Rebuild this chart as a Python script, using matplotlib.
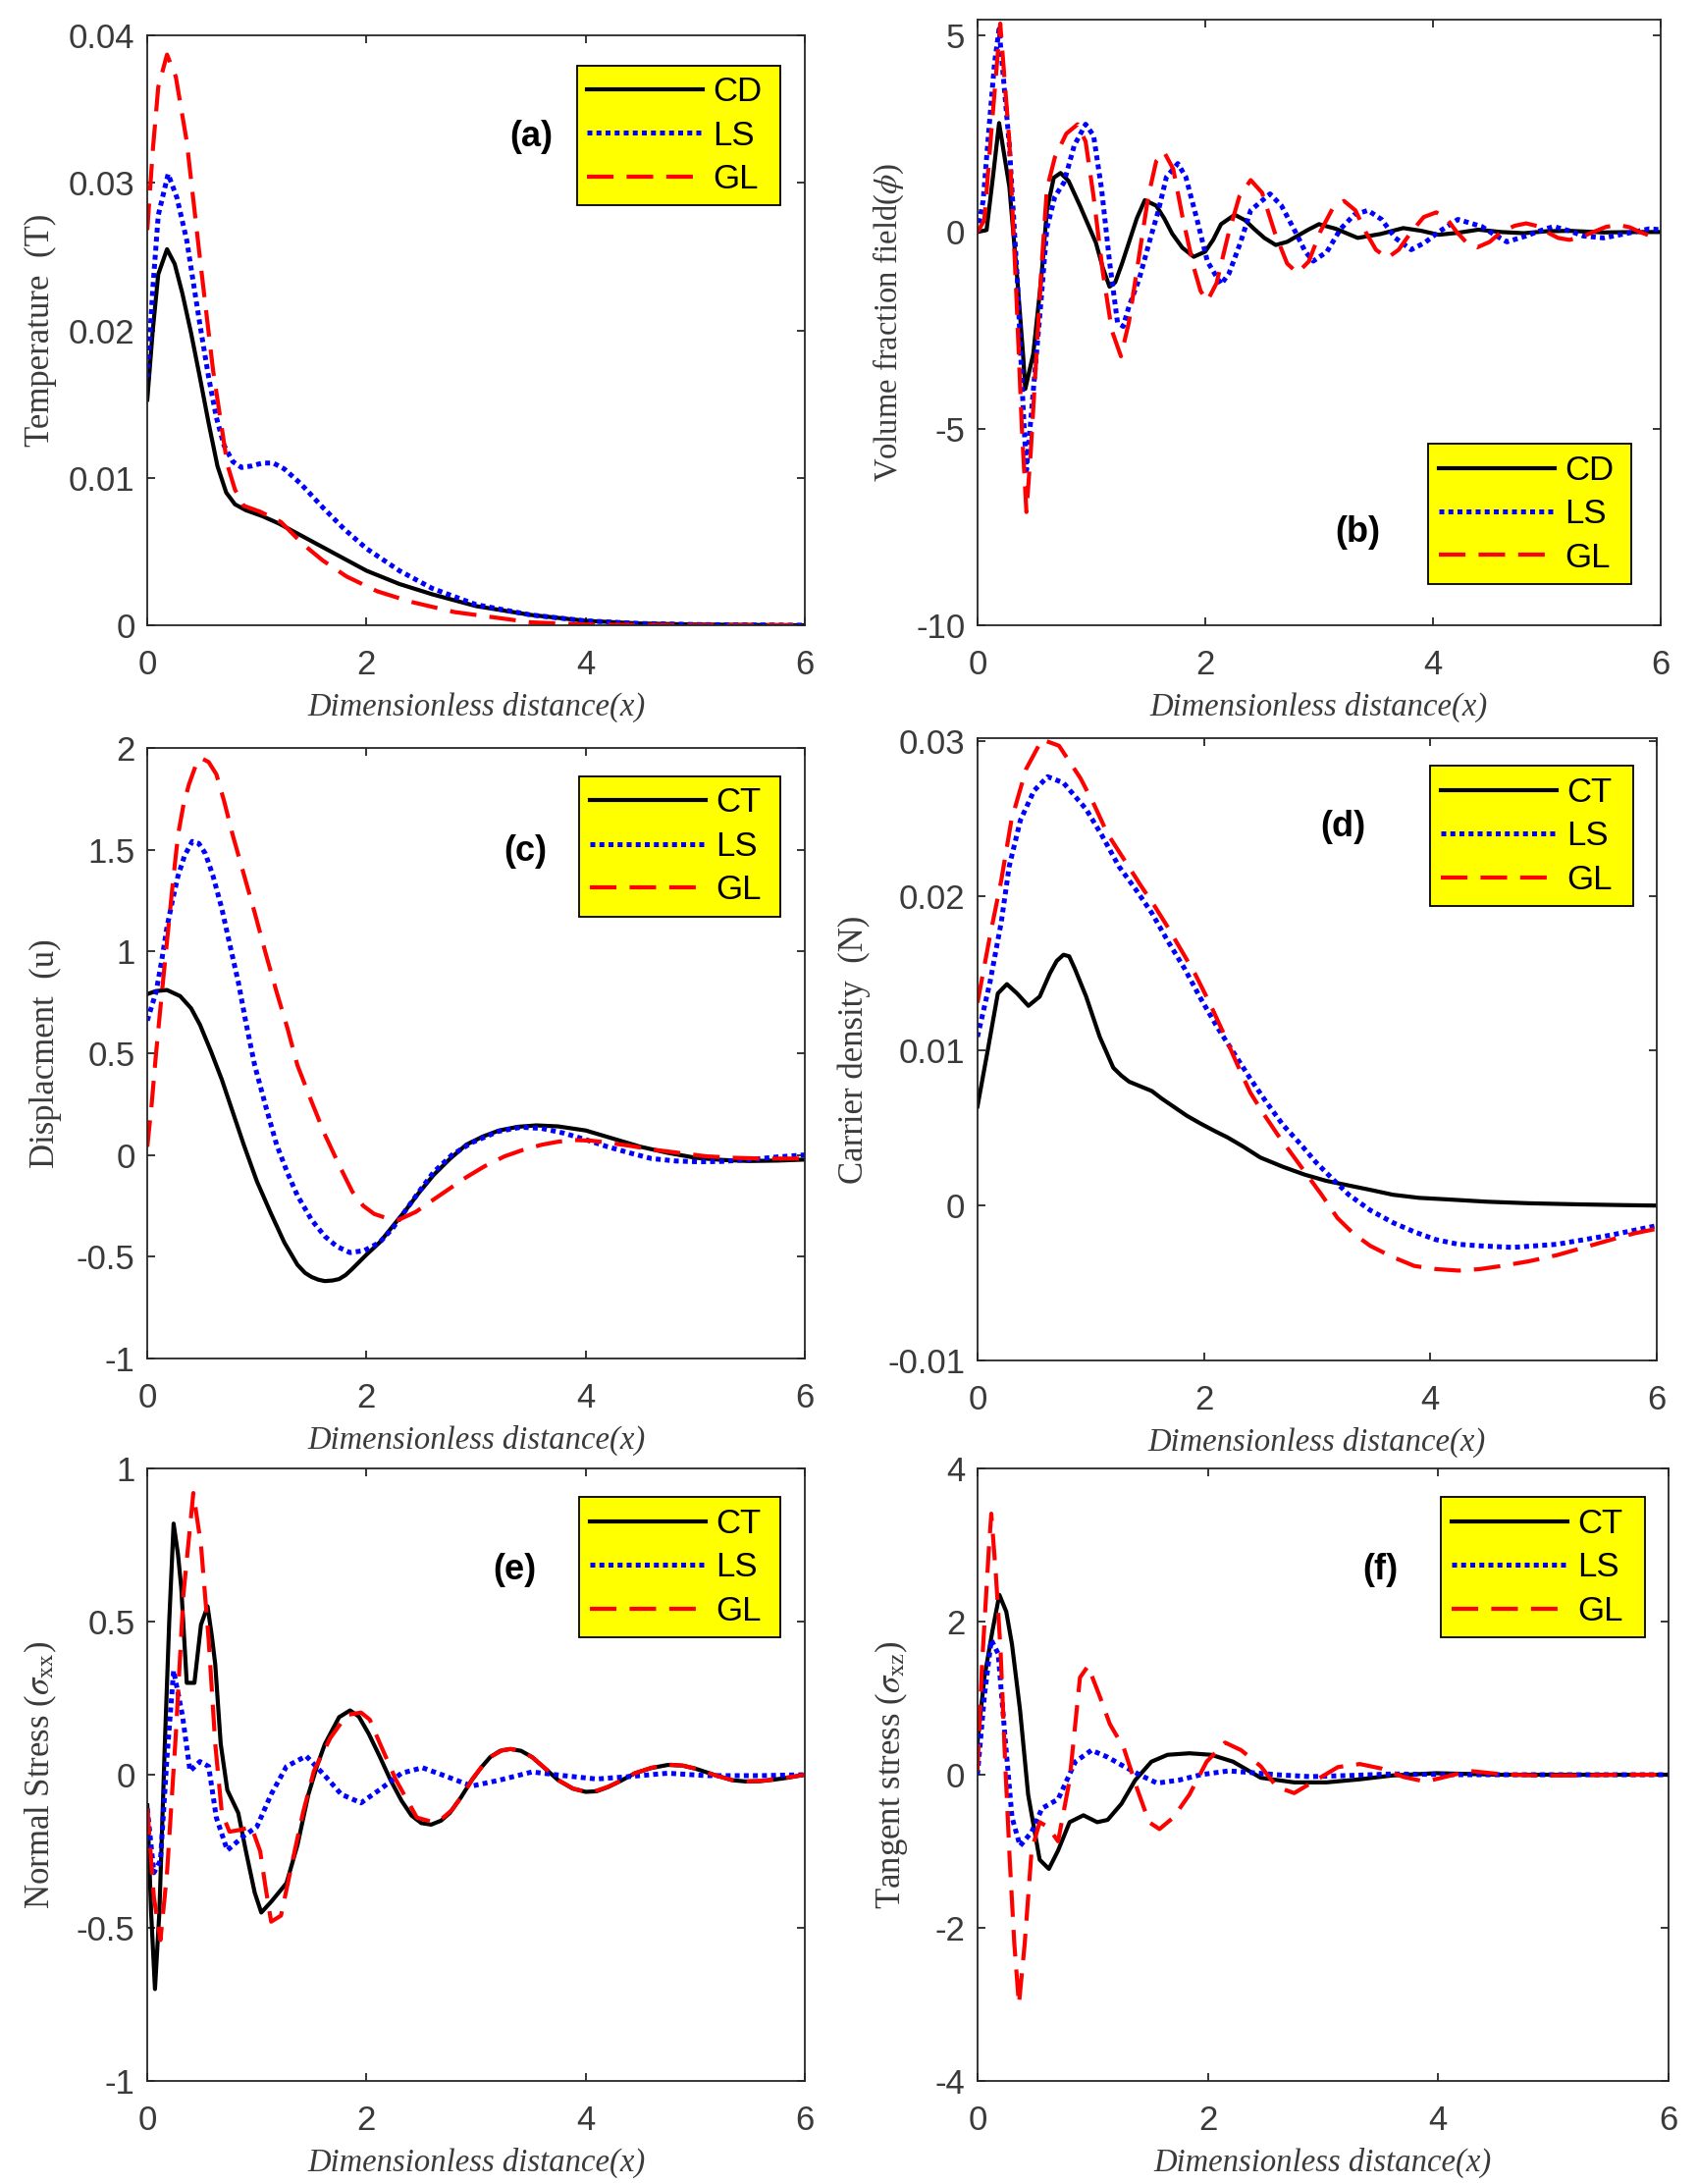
import matplotlib
matplotlib.use("Agg")
import matplotlib.pyplot as plt
from matplotlib.ticker import FixedLocator, FuncFormatter

# ---------------- data ----------------
# (a) Temperature
a_x_cd = [0, 0.05, 0.1, 0.18, 0.25, 0.32, 0.4, 0.48, 0.56, 0.64, 0.72, 0.8, 0.9, 1.05, 1.2, 1.4,
          1.6, 1.8, 2.0, 2.3, 2.6, 3.0, 3.5, 4.0, 4.5, 5.0, 6.0]
a_cd = [0.0153, 0.0200, 0.0238, 0.0255, 0.0245, 0.0225, 0.0198, 0.0168, 0.0137, 0.0108, 0.0090,
        0.0082, 0.0078, 0.0074, 0.0069, 0.0061, 0.0053, 0.0045, 0.0037, 0.0028, 0.0021, 0.0013,
        0.0007, 0.0003, 0.00012, 0.00005, 0.0]
a_x_ls = [0, 0.05, 0.1, 0.19, 0.27, 0.36, 0.48, 0.56, 0.63, 0.7, 0.78, 0.86, 0.95, 1.05, 1.15, 1.25,
          1.4, 1.6, 1.8, 2.0, 2.3, 2.6, 3.0, 3.5, 4.0, 4.5, 5.0, 6.0]
a_ls = [0.0168, 0.0228, 0.0278, 0.0306, 0.0290, 0.0261, 0.0204, 0.0168, 0.0141, 0.0122, 0.0111,
        0.0107, 0.0108, 0.0110, 0.0110, 0.0106, 0.0096, 0.0080, 0.0065, 0.0052, 0.0037, 0.0025,
        0.0014, 0.0007, 0.0003, 0.00012, 0.00005, 0.0]
a_x_gl = [0, 0.05, 0.1, 0.18, 0.26, 0.36, 0.48, 0.6, 0.73, 0.8, 0.88, 1.03, 1.22, 1.42, 1.6, 1.82,
          2.1, 2.4, 2.8, 3.1, 3.5, 4.0, 5.0, 6.0]
a_gl = [0.0268, 0.0322, 0.0365, 0.0387, 0.0372, 0.0328, 0.0249, 0.0173, 0.0109, 0.0092, 0.0081,
        0.0077, 0.0070, 0.0055, 0.0044, 0.0033, 0.0023, 0.0016, 0.0009, 0.0006, 0.0002, 0.00005,
        0.0, 0.0]

# (b) Volume fraction field
b_x_cd = [0, 0.08, 0.14, 0.19, 0.28, 0.35, 0.40, 0.42, 0.49, 0.56, 0.61, 0.67, 0.73, 0.8, 0.9, 0.97,
          1.04, 1.1, 1.16, 1.21, 1.27, 1.33, 1.4, 1.47, 1.57, 1.64, 1.71, 1.8, 1.9, 2.0, 2.07, 2.14,
          2.26, 2.35, 2.43, 2.52, 2.62, 2.72, 2.81, 2.9, 3.0, 3.15, 3.34, 3.54, 3.74, 3.9, 4.05,
          4.22, 4.4, 4.6, 4.8, 5.0, 5.2, 5.5, 5.8, 6.0]
b_cd = [0, 0.05, 1.5, 2.77, 1.15, -1.2, -3.1, -3.99, -3.1, -1.2, 0.55, 1.38, 1.5, 1.3, 0.67, 0.2,
        -0.27, -0.9, -1.39, -1.28, -0.8, -0.27, 0.35, 0.81, 0.67, 0.35, -0.04, -0.4, -0.63, -0.5,
        -0.2, 0.2, 0.44, 0.3, 0.08, -0.15, -0.33, -0.25, -0.1, 0.05, 0.2, 0.08, -0.15, -0.05, 0.1,
        0.03, -0.07, -0.02, 0.06, 0.0, -0.03, 0.02, 0.03, -0.01, 0.0, 0.0]
b_x_ls = [0, 0.05, 0.1, 0.15, 0.19, 0.28, 0.35, 0.4, 0.43, 0.49, 0.56, 0.61, 0.68, 0.76, 0.85, 0.95,
          1.02, 1.09, 1.16, 1.23, 1.28, 1.33, 1.42, 1.52, 1.59, 1.66, 1.76, 1.83, 1.93, 2.02, 2.14,
          2.21, 2.31, 2.4, 2.57, 2.67, 2.79, 2.88, 2.95, 3.07, 3.19, 3.31, 3.43, 3.55, 3.67, 3.81,
          3.93, 4.05, 4.22, 4.43, 4.53, 4.65, 4.82, 4.94, 5.06, 5.2, 5.32, 5.5, 5.68, 5.9, 6.0]
b_ls = [0, 0.8, 2.6, 4.3, 5.16, 2.2, -1.2, -4.4, -6.06, -4.05, -1.7, 0.1, 0.9, 1.26, 2.2, 2.74,
        2.45, 1.1, -0.75, -2.3, -2.4, -1.9, -1.2, -0.15, 0.55, 1.4, 1.74, 1.4, 0.3, -0.75, -1.33,
        -1.05, -0.27, 0.55, 0.97, 0.67, 0.02, -0.5, -0.74, -0.5, 0.08, 0.44, 0.55, 0.32, -0.15,
        -0.45, -0.27, 0.0, 0.32, 0.14, -0.05, -0.25, -0.1, 0.03, 0.14, 0.03, -0.1, -0.15, -0.05,
        0.08, 0.06]
b_x_gl = [0, 0.06, 0.12, 0.2, 0.28, 0.34, 0.39, 0.43, 0.47, 0.5, 0.56, 0.61, 0.68, 0.78, 0.88,
          0.95, 1.02, 1.1, 1.18, 1.26, 1.33, 1.42, 1.5, 1.57, 1.64, 1.72, 1.8, 1.9, 1.96, 2.02,
          2.1, 2.2, 2.3, 2.4, 2.5, 2.61, 2.72, 2.81, 2.91, 3.01, 3.12, 3.22, 3.32, 3.41, 3.5, 3.6,
          3.7, 3.81, 3.92, 4.03, 4.12, 4.21, 4.3, 4.39, 4.5, 4.6, 4.72, 4.82, 4.92, 5.0, 5.1, 5.2,
          5.3, 5.41, 5.52, 5.63, 5.73, 5.82, 5.92, 6.0]
b_gl = [0, 0.3, 2.5, 5.3, 2.3, -1.5, -5.0, -7.12, -5.5, -4.0, -1.0, 1.1, 1.9, 2.5, 2.74, 2.3, 0.9,
        -1.0, -2.5, -3.16, -2.3, -0.6, 0.9, 1.8, 2.03, 1.6, 0.4, -0.9, -1.5, -1.75, -1.3, -0.1,
        0.9, 1.32, 1.0, 0.0, -0.8, -1.04, -0.75, 0.0, 0.6, 0.79, 0.55, 0.0, -0.45, -0.66, -0.45,
        0.0, 0.38, 0.5, 0.35, 0.0, -0.28, -0.39, -0.25, 0.0, 0.16, 0.22, 0.15, 0.0, -0.15, -0.2,
        -0.13, 0.0, 0.13, 0.18, 0.12, 0.0, -0.11, -0.15]

# (c) Displacement
c_x_ct = [0, 0.08, 0.18, 0.3, 0.4, 0.48, 0.58, 0.68, 0.78, 0.88, 1.0, 1.13, 1.25, 1.37, 1.44, 1.5,
          1.56, 1.62, 1.69, 1.75, 1.81, 1.87, 2.0, 2.12, 2.24, 2.36, 2.48, 2.61, 2.76, 2.91, 3.06,
          3.21, 3.38, 3.55, 3.75, 4.0, 4.25, 4.5, 4.75, 5.0, 5.25, 5.49, 5.75, 6.0]
c_ct = [0.79, 0.805, 0.81, 0.78, 0.72, 0.64, 0.51, 0.37, 0.21, 0.05, -0.13, -0.29, -0.43, -0.54,
        -0.58, -0.60, -0.613, -0.62, -0.617, -0.61, -0.59, -0.56, -0.49, -0.43, -0.35, -0.27,
        -0.185, -0.1, -0.02, 0.05, 0.09, 0.12, 0.138, 0.145, 0.14, 0.12, 0.08, 0.04, 0.01,
        -0.014, -0.025, -0.03, -0.028, -0.023]
c_x_ls = [0, 0.04, 0.08, 0.13, 0.18, 0.23, 0.28, 0.34, 0.41, 0.47, 0.53, 0.6, 0.68, 0.75, 0.83, 0.9,
          0.98, 1.08, 1.18, 1.28, 1.37, 1.5, 1.62, 1.73, 1.85, 1.98, 2.12, 2.24, 2.36, 2.48, 2.61,
          2.78, 2.96, 3.2, 3.41, 3.6, 3.8, 4.0, 4.2, 4.4, 4.6, 4.82, 5.04, 5.25, 5.49, 5.75, 6.0]
c_ls = [0.66, 0.73, 0.8, 0.95, 1.12, 1.25, 1.37, 1.47, 1.54, 1.53, 1.48, 1.37, 1.21, 1.04, 0.85,
        0.65, 0.44, 0.24, 0.05, -0.09, -0.2, -0.32, -0.40, -0.45, -0.48, -0.47, -0.43, -0.36,
        -0.27, -0.18, -0.086, 0.0, 0.06, 0.115, 0.136, 0.13, 0.107, 0.075, 0.04, 0.01, -0.018,
        -0.03, -0.034, -0.032, -0.023, -0.01, 0.0]
c_x_gl = [0, 0.04, 0.08, 0.13, 0.18, 0.23, 0.28, 0.33, 0.38, 0.44, 0.49, 0.56, 0.63, 0.7, 0.78,
          0.88, 0.98, 1.08, 1.18, 1.28, 1.37, 1.5, 1.62, 1.75, 1.87, 1.97, 2.07, 2.18, 2.29, 2.45,
          2.61, 2.76, 2.91, 3.08, 3.26, 3.43, 3.6, 3.75, 3.9, 4.05, 4.2, 4.4, 4.6, 4.85, 5.1, 5.35,
          5.6, 6.0]
c_gl = [0.04, 0.25, 0.5, 0.78, 1.05, 1.32, 1.57, 1.72, 1.82, 1.91, 1.95, 1.93, 1.87, 1.74, 1.57,
        1.38, 1.19, 0.99, 0.8, 0.62, 0.44, 0.26, 0.1, -0.05, -0.18, -0.25, -0.29, -0.31, -0.32,
        -0.28, -0.22, -0.165, -0.11, -0.055, -0.007, 0.025, 0.05, 0.065, 0.073, 0.07, 0.06,
        0.045, 0.027, 0.01, -0.007, -0.014, -0.018, -0.018]

# (d) Carrier density
d_x_ct = [0, 0.09, 0.18, 0.26, 0.35, 0.45, 0.55, 0.64, 0.7, 0.76, 0.81, 0.86, 0.96, 1.08, 1.2, 1.27,
          1.34, 1.44, 1.54, 1.63, 1.73, 1.85, 1.97, 2.1, 2.21, 2.35, 2.5, 2.7, 2.89, 3.08, 3.28,
          3.48, 3.67, 3.9, 4.15, 4.5, 4.87, 5.3, 5.7, 6.0]
d_ct = [0.0064, 0.0100, 0.0137, 0.0143, 0.0137, 0.0129, 0.0135, 0.0150, 0.0158, 0.0162, 0.0161,
        0.0153, 0.0135, 0.0109, 0.0089, 0.0084, 0.0080, 0.0077, 0.0074, 0.0069, 0.0064, 0.0058,
        0.0053, 0.0048, 0.0044, 0.0038, 0.0031, 0.0025, 0.0020, 0.0016, 0.0013, 0.0010, 0.0007,
        0.0005, 0.0004, 0.00025, 0.00015, 0.00008, 0.00003, 0.0]
d_x_ls = [0, 0.11, 0.21, 0.28, 0.38, 0.5, 0.62, 0.76, 0.96, 1.1, 1.25, 1.4, 1.54, 1.68, 1.83, 1.97,
          2.12, 2.27, 2.41, 2.55, 2.7, 2.85, 2.99, 3.14, 3.28, 3.47, 3.67, 3.86, 4.05, 4.25, 4.44,
          4.73, 5.12, 5.36, 5.6, 5.8, 6.0]
d_ls = [0.0109, 0.0144, 0.0183, 0.0219, 0.0249, 0.0268, 0.0277, 0.0273, 0.0256, 0.0239, 0.0219,
        0.0204, 0.0189, 0.0171, 0.0153, 0.0134, 0.0115, 0.0098, 0.0082, 0.0067, 0.0052, 0.0040,
        0.0028, 0.0017, 0.0007, -0.0003, -0.0011, -0.0017, -0.0022, -0.0025, -0.0026, -0.0027,
        -0.0025, -0.0022, -0.0019, -0.0016, -0.0013]
d_x_gl = [0, 0.11, 0.21, 0.3, 0.43, 0.57, 0.72, 0.91, 1.03, 1.15, 1.3, 1.44, 1.56, 1.68, 1.8, 1.92,
          2.05, 2.17, 2.29, 2.41, 2.53, 2.65, 2.77, 2.89, 3.04, 3.18, 3.32, 3.47, 3.66, 3.86, 4.05,
          4.25, 4.44, 4.63, 4.87, 5.12, 5.36, 5.6, 5.8, 6.0]
d_gl = [0.0131, 0.0174, 0.0210, 0.0249, 0.0282, 0.0301, 0.0297, 0.0276, 0.0259, 0.0240, 0.0223,
        0.0207, 0.0194, 0.0180, 0.0165, 0.0150, 0.0131, 0.0112, 0.0092, 0.0073, 0.0059, 0.0046,
        0.0034, 0.0022, 0.0007, -0.0008, -0.0018, -0.0026, -0.0033, -0.0039, -0.0041, -0.0042,
        -0.0041, -0.0039, -0.0036, -0.0032, -0.0027, -0.0022, -0.0018, -0.0015]

# (e) Normal stress
e_x_ct = [0, 0.035, 0.07, 0.11, 0.16, 0.2, 0.24, 0.28, 0.31, 0.36, 0.43, 0.49, 0.55, 0.59, 0.62,
          0.67, 0.73, 0.83, 0.9, 0.98, 1.04, 1.13, 1.27, 1.37, 1.47, 1.55, 1.62, 1.75, 1.85, 1.93,
          2.02, 2.12, 2.22, 2.32, 2.41, 2.5, 2.59, 2.68, 2.76, 2.86, 2.96, 3.05, 3.13, 3.22, 3.31,
          3.41, 3.51, 3.63, 3.75, 3.88, 4.0, 4.1, 4.2, 4.32, 4.45, 4.6, 4.75, 4.88, 5.0, 5.17,
          5.34, 5.46, 5.59, 5.72, 5.84, 6.0]
e_ct = [-0.1, -0.45, -0.70, -0.45, 0.1, 0.5, 0.82, 0.72, 0.61, 0.30, 0.30, 0.49, 0.55, 0.45, 0.36,
        0.10, -0.05, -0.125, -0.25, -0.385, -0.45, -0.415, -0.354, -0.23, -0.064, 0.03, 0.10,
        0.188, 0.21, 0.19, 0.134, 0.06, -0.018, -0.085, -0.133, -0.158, -0.163, -0.15, -0.125,
        -0.075, -0.018, 0.025, 0.058, 0.078, 0.084, 0.078, 0.058, 0.02, -0.018, -0.045, -0.056,
        -0.054, -0.041, -0.02, 0.005, 0.022, 0.032, 0.03, 0.02, 0.0, -0.018, -0.022, -0.021,
        -0.016, -0.01, 0.0]
e_x_ls = [0, 0.06, 0.12, 0.18, 0.24, 0.32, 0.39, 0.48, 0.56, 0.63, 0.73, 0.88, 1.0, 1.13, 1.27,
          1.45, 1.62, 1.77, 1.95, 2.12, 2.32, 2.51, 2.71, 2.96, 3.21, 3.51, 3.8, 4.1, 4.4, 4.75,
          5.1, 5.6, 6.0]
e_ls = [-0.11, -0.32, -0.28, 0.058, 0.34, 0.195, 0.012, 0.043, 0.027, -0.14, -0.247, -0.2, -0.17,
        -0.064, 0.027, 0.061, -0.003, -0.064, -0.092, -0.049, 0.005, 0.023, -0.003, -0.037,
        -0.018, 0.009, -0.003, -0.014, -0.006, 0.005, -0.003, -0.003, 0.0]
e_x_gl = [0, 0.06, 0.12, 0.18, 0.26, 0.33, 0.42, 0.49, 0.56, 0.62, 0.68, 0.75, 0.85, 0.95, 1.03,
          1.08, 1.13, 1.22, 1.32, 1.42, 1.52, 1.67, 1.82, 1.95, 2.03, 2.12, 2.27, 2.46, 2.61, 2.7,
          2.78, 2.88, 2.97, 3.06, 3.15, 3.24, 3.32, 3.42, 3.52, 3.64, 3.76, 3.89, 4.0, 4.1, 4.2,
          4.32, 4.45, 4.6, 4.76, 4.9, 5.02, 5.18, 5.34, 5.47, 5.6, 5.73, 5.86, 6.0]
e_gl = [-0.11, -0.40, -0.54, -0.32, 0.13, 0.59, 0.92, 0.75, 0.44, 0.10, -0.125, -0.186, -0.18,
        -0.17, -0.25, -0.37, -0.48, -0.46, -0.29, -0.125, 0.012, 0.12, 0.195, 0.203, 0.18, 0.104,
        -0.018, -0.14, -0.155, -0.14, -0.115, -0.065, -0.012, 0.03, 0.062, 0.08, 0.084, 0.076,
        0.055, 0.018, -0.02, -0.046, -0.055, -0.052, -0.04, -0.02, 0.005, 0.023, 0.033, 0.029,
        0.018, -0.002, -0.018, -0.022, -0.02, -0.015, -0.008, 0.0]

# (f) Tangent stress
f_x_ct = [0, 0.06, 0.13, 0.19, 0.25, 0.3, 0.37, 0.44, 0.54, 0.62, 0.7, 0.8, 0.92, 1.04, 1.13, 1.25,
          1.37, 1.51, 1.65, 1.84, 2.03, 2.22, 2.46, 2.75, 3.03, 3.32, 3.6, 3.98, 4.55, 5.2, 6.0]
f_ct = [0.42, 1.27, 1.88, 2.35, 2.13, 1.70, 0.84, -0.26, -1.11, -1.23, -0.99, -0.62, -0.53, -0.62,
        -0.59, -0.38, -0.07, 0.17, 0.26, 0.28, 0.26, 0.17, -0.04, -0.10, -0.10, -0.06, -0.01,
        0.02, 0.0, 0.0, 0.0]
f_x_ls = [0, 0.06, 0.12, 0.18, 0.24, 0.3, 0.37, 0.47, 0.56, 0.7, 0.85, 0.99, 1.13, 1.27, 1.42, 1.56,
          1.75, 1.94, 2.18, 2.36, 2.6, 2.89, 3.23, 3.6, 4.2, 5.0, 6.0]
f_ls = [0.0, 1.03, 1.76, 1.58, 0.48, -0.56, -0.93, -0.75, -0.44, -0.32, 0.17, 0.32, 0.23, 0.11,
        -0.01, -0.11, -0.07, 0.0, 0.05, 0.03, 0.0, -0.025, -0.01, 0.01, 0.0, 0.0, 0.0]
f_x_gl = [0, 0.04, 0.1, 0.12, 0.16, 0.2, 0.24, 0.28, 0.32, 0.36, 0.41, 0.47, 0.54, 0.61, 0.7, 0.8,
          0.89, 0.96, 1.06, 1.15, 1.27, 1.39, 1.49, 1.58, 1.7, 1.84, 1.99, 2.15, 2.29, 2.46, 2.6,
          2.75, 2.94, 3.13, 3.32, 3.51, 3.7, 3.89, 4.03, 4.27, 4.55, 4.84, 5.2, 5.6, 6.0]
f_gl = [0.05, 1.45, 2.98, 3.41, 2.61, 1.64, 0.17, -1.11, -2.21, -3.0, -2.21, -0.99, -0.62, -0.68,
        -0.87, -0.07, 1.27, 1.42, 1.03, 0.66, 0.35, -0.2, -0.62, -0.71, -0.56, -0.26, 0.17, 0.42,
        0.32, 0.11, -0.16, -0.24, -0.07, 0.1, 0.14, 0.08, -0.03, -0.09, -0.04, 0.05, 0.006, -0.01,
        -0.01, 0.0, 0.0]

x_ticks = [0, 2, 4, 6]

# ---------------- styling ----------------
plt.rcParams["axes.unicode_minus"] = False
plt.rcParams["mathtext.fontset"] = "stix"
SANS = "Liberation Sans"
SERIF = "Liberation Serif"
GREY = "#262626"
TICK_GREY = "#3a3a3a"

STYLE_BLACK = dict(color="black", lw=3.0, ls="-")
STYLE_BLUE = dict(color="#0000ff", lw=3.6, ls=(0, (1, 0.85)))
STYLE_RED = dict(color="#ff0000", lw=3.0, ls=(0, (6.5, 3.2)))

fmt = FuncFormatter(lambda v, p: "%g" % (round(v, 6) + 0.0))


def draw_panel(ax, curves, ylim, yticks, ylabel, tag, tag_xy, leg_box, leg_loc,
               ylab_x, ylab_size=25):
    for xs, ys, name, style in curves:
        ax.plot(xs, ys, label=name, **style)
    ax.set_xlim(0, 6)
    ax.set_ylim(*ylim)
    ax.xaxis.set_major_locator(FixedLocator(x_ticks))
    ax.yaxis.set_major_locator(FixedLocator(yticks))
    ax.xaxis.set_major_formatter(fmt)
    ax.yaxis.set_major_formatter(fmt)
    ax.tick_params(direction="in", length=6, width=1.3, color=GREY, labelcolor=TICK_GREY,
                   top=True, right=True, labelsize=25)
    ax.tick_params(axis="x", pad=17)
    ax.tick_params(axis="y", pad=9)
    for lab in ax.get_xticklabels() + ax.get_yticklabels():
        lab.set_family(SANS)
    for sp in ax.spines.values():
        sp.set_color(GREY)
        sp.set_linewidth(1.3)

    ax.set_xlabel("Dimensionless distance(x)", family=SERIF, style="italic", fontsize=23.5,
                  color=TICK_GREY)
    h_px = ax.get_position().height * fig.get_figheight() * fig.dpi
    ax.xaxis.set_label_coords(0.5, -68.0 / h_px)
    ax.set_ylabel(ylabel, family=SERIF, fontsize=ylab_size, color=TICK_GREY)
    ax.yaxis.set_label_coords(ylab_x, 0.5)

    ax.text(tag_xy[0], tag_xy[1], tag, family=SANS, weight="bold", fontsize=26,
            ha="center", va="center")

    leg = ax.legend(loc=leg_loc, bbox_to_anchor=leg_box, mode="expand",
                    prop={"family": SANS, "size": 25}, handlelength=3.4, handletextpad=0.3,
                    labelspacing=0.33, borderpad=0.3, borderaxespad=0, fancybox=False,
                    framealpha=1)
    frame = leg.get_frame()
    frame.set_facecolor("#ffff00")
    frame.set_edgecolor("black")
    frame.set_linewidth(1.3)


fig = plt.figure(figsize=(17.29, 22.25), dpi=100)

ax_a = fig.add_axes([0.0868, 0.7137, 0.3875, 0.2701])
ax_b = fig.add_axes([0.576, 0.7137, 0.4025, 0.2773])
ax_c = fig.add_axes([0.0868, 0.378, 0.3875, 0.2796])
ax_d = fig.add_axes([0.576, 0.3771, 0.4002, 0.2850])
ax_e = fig.add_axes([0.0868, 0.0472, 0.3875, 0.2804])
ax_f = fig.add_axes([0.576, 0.0472, 0.4072, 0.2804])

draw_panel(ax_a,
           [(a_x_cd, a_cd, "CD", STYLE_BLACK), (a_x_ls, a_ls, "LS", STYLE_BLUE),
            (a_x_gl, a_gl, "GL", STYLE_RED)],
           (0, 0.04), [0, 0.01, 0.02, 0.03, 0.04], "Temperature  (T)", "(a)", (3.5, 0.0331),
           (0.653, 0.716, 0.31, 0.233), "upper left", -0.137)

draw_panel(ax_b,
           [(b_x_cd, b_cd, "CD", STYLE_BLACK), (b_x_ls, b_ls, "LS", STYLE_BLUE),
            (b_x_gl, b_gl, "GL", STYLE_RED)],
           (-10, 5.4), [-10, -5, 0, 5], r"Volume fraction field($\phi$)", "(b)", (3.34, -7.65),
           (0.66, 0.068, 0.297, 0.227), "lower left", -0.105, ylab_size=23.5)

draw_panel(ax_c,
           [(c_x_ct, c_ct, "CT", STYLE_BLACK), (c_x_ls, c_ls, "LS", STYLE_BLUE),
            (c_x_gl, c_gl, "GL", STYLE_RED)],
           (-1, 2), [-1, -0.5, 0, 0.5, 1, 1.5, 2], "Displacment  (u)", "(c)", (3.45, 1.49),
           (0.657, 0.727, 0.306, 0.226), "upper left", -0.13)

draw_panel(ax_d,
           [(d_x_ct, d_ct, "CT", STYLE_BLACK), (d_x_ls, d_ls, "LS", STYLE_BLUE),
            (d_x_gl, d_gl, "GL", STYLE_RED)],
           (-0.01, 0.0302), [-0.01, 0, 0.01, 0.02, 0.03], "Carrier density  (N)", "(d)",
           (3.23, 0.02445), (0.667, 0.734, 0.298, 0.221), "upper left", -0.158)

draw_panel(ax_e,
           [(e_x_ct, e_ct, "CT", STYLE_BLACK), (e_x_ls, e_ls, "LS", STYLE_BLUE),
            (e_x_gl, e_gl, "GL", STYLE_RED)],
           (-1, 1), [-1, -0.5, 0, 0.5, 1], r"Normal Stress ($\sigma_{\mathrm{xx}}$)", "(e)",
           (3.35, 0.67), (0.657, 0.729, 0.306, 0.224), "upper left", -0.135)

draw_panel(ax_f,
           [(f_x_ct, f_ct, "CT", STYLE_BLACK), (f_x_ls, f_ls, "LS", STYLE_BLUE),
            (f_x_gl, f_gl, "GL", STYLE_RED)],
           (-4, 4), [-4, -2, 0, 2, 4], r"Tangent stress ($\sigma_{\mathrm{xz}}$)", "(f)",
           (3.5, 2.67), (0.671, 0.729, 0.295, 0.224), "upper left", -0.098)

fig.savefig("out.png", dpi=100)
